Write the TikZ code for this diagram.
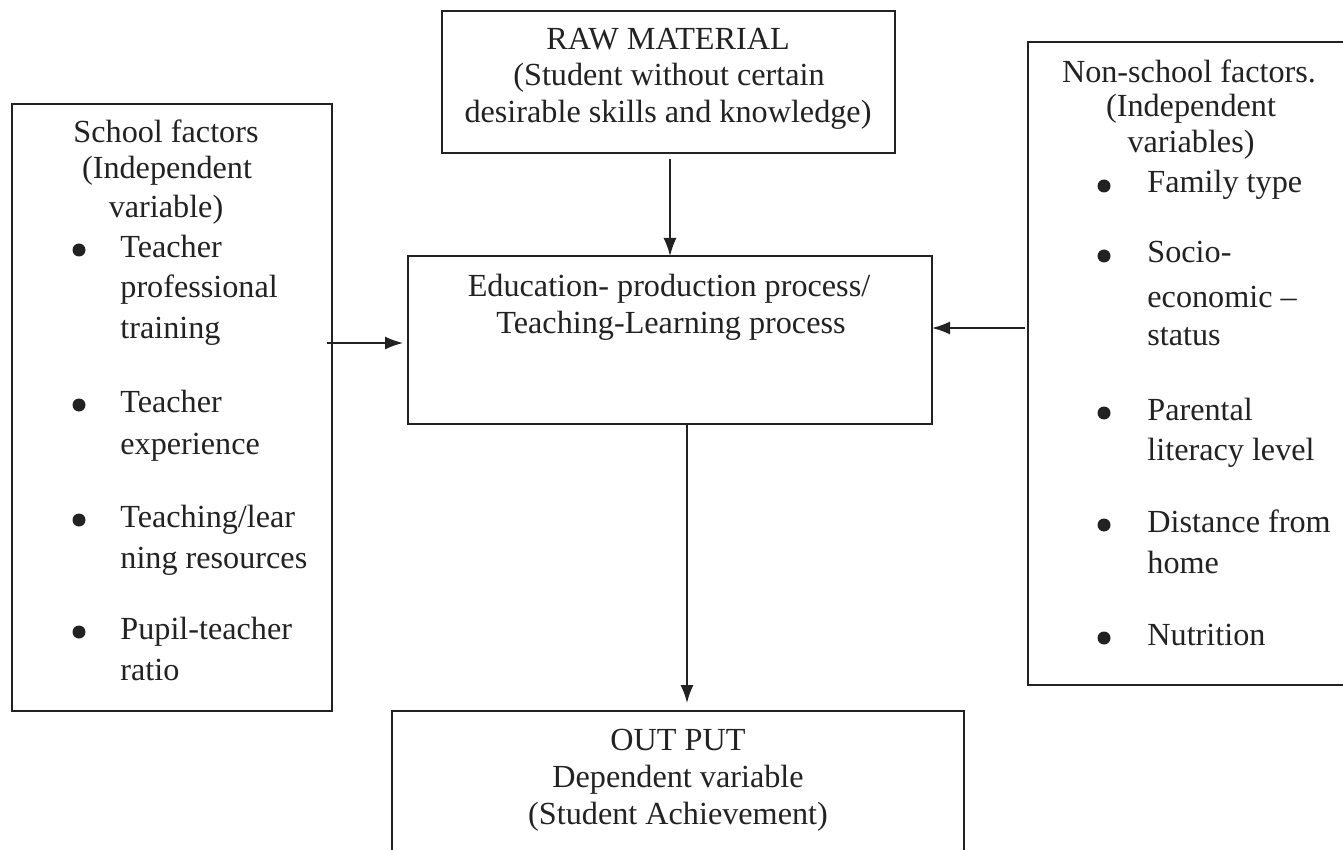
\documentclass[tikz,border=0pt]{standalone}
\usepackage{fontspec}
\setmainfont{Liberation Serif}
\usetikzlibrary{arrows.meta}
\definecolor{ink}{HTML}{222222}
\tikzset{
  box/.style={draw=ink, line width=1pt, inner sep=0pt, outer sep=0pt, rectangle},
  txt/.style={anchor=base, inner sep=0pt, text=ink, font=\fontsize{16.1}{19}\selectfont},
  ltxt/.style={txt, anchor=base west},
  bul/.style={circle, fill=ink, inner sep=0pt, minimum size=6.5pt},
  arr/.style={draw=ink, line width=0.8pt, -{Latex[length=9pt,width=6.5pt]}}
}
\begin{document}
\begin{tikzpicture}[x=0.5pt,y=-0.5pt]
\useasboundingbox (0,0) rectangle (1343,850);
\clip (0,0) rectangle (1343,850);
\fill[white] (0,0) rectangle (1343,850);
% boxes
\node[box, minimum width=226.5pt, minimum height=71pt] (raw) at (668.5,82) {};
\node[box, minimum width=262pt, minimum height=84pt] (proc) at (670,340) {};
\node[box, minimum width=160pt, minimum height=303.5pt] (school) at (172,407.5) {};
\node[box, minimum width=166pt, minimum height=321.5pt] (nonschool) at (1194,363.5) {};
\node[box, minimum width=286pt, minimum height=84.5pt] (out) at (678,795.5) {};
% raw material text
\node[txt] (r1) at (668,50) {RAW MATERIAL};
\node[txt] (r2) at (669,86) {(Student without certain};
\node[txt] (r3) at (668,123) {desirable skills and knowledge)};
% process text
\node[txt] (p1) at (669,296) {Education- production process/};
\node[txt] (p2) at (671,333) {Teaching-Learning process};
% output text
\node[txt] (o1) at (678,750) {OUT PUT};
\node[txt] (o2) at (678,787) {Dependent variable};
\node[txt] (o3) at (678,824) {(Student Achievement)};
% school factors
\node[txt] (s1) at (166,143) {School factors};
\node[txt] (s2) at (167,179) {(Independent};
\node[txt] (s3) at (166,218) {variable)};
\node[bul] (sb1) at (79,250) {};
\node[ltxt] (s4) at (120,257) {Teacher};
\node[ltxt] (s5) at (120,298) {professional};
\node[ltxt] (s6) at (120,338) {training};
\node[bul] (sb2) at (79,405) {};
\node[ltxt] (s7) at (120,412) {Teacher};
\node[ltxt] (s8) at (120,454) {experience};
\node[bul] (sb3) at (79,520) {};
\node[ltxt] (s9) at (120,527) {Teaching/lear};
\node[ltxt] (s10) at (120,568) {ning resources};
\node[bul] (sb4) at (79,632) {};
\node[ltxt] (s11) at (120,639) {Pupil-teacher};
\node[ltxt] (s12) at (120,680) {ratio};
% non-school factors
\node[txt] (n1) at (1189,83) {Non-school factors.};
\node[txt] (n2) at (1191,117) {(Independent};
\node[txt] (n3) at (1191,153) {variables)};
\node[bul] (nb1) at (1104,186) {};
\node[ltxt] (n4) at (1147,193) {Family type};
\node[bul] (nb2) at (1104,256) {};
\node[ltxt] (n5) at (1147,263) {Socio-};
\node[ltxt] (n6) at (1147,307) {economic –};
\node[ltxt] (n7) at (1147,345) {status};
\node[bul] (nb3) at (1104,413) {};
\node[ltxt] (n8) at (1147,420) {Parental};
\node[ltxt] (n9) at (1147,460) {literacy level};
\node[bul] (nb4) at (1104,525) {};
\node[ltxt] (n10) at (1147,532) {Distance from};
\node[ltxt] (n11) at (1147,573) {home};
\node[bul] (nb5) at (1104,638) {};
\node[ltxt] (n12) at (1147,645) {Nutrition};
% connector guides
\coordinate (xa) at (670,0);
\coordinate (xb) at (687,0);
\coordinate (ya) at (0,343);
\coordinate (yb) at (0,328);
% connectors
\draw[arr, shorten <=3pt] (raw.south -| xa) -- (proc.north -| xa);
\draw[arr, shorten >=4pt] (proc.south -| xb) -- (out.north -| xb);
\draw[arr, shorten <=-2.5pt, shorten >=2.5pt] (school.east |- ya) -- (proc.west |- ya);
\draw[arr, shorten <=1.5pt] (nonschool.west |- yb) -- (proc.east |- yb);
\end{tikzpicture}
\end{document}
